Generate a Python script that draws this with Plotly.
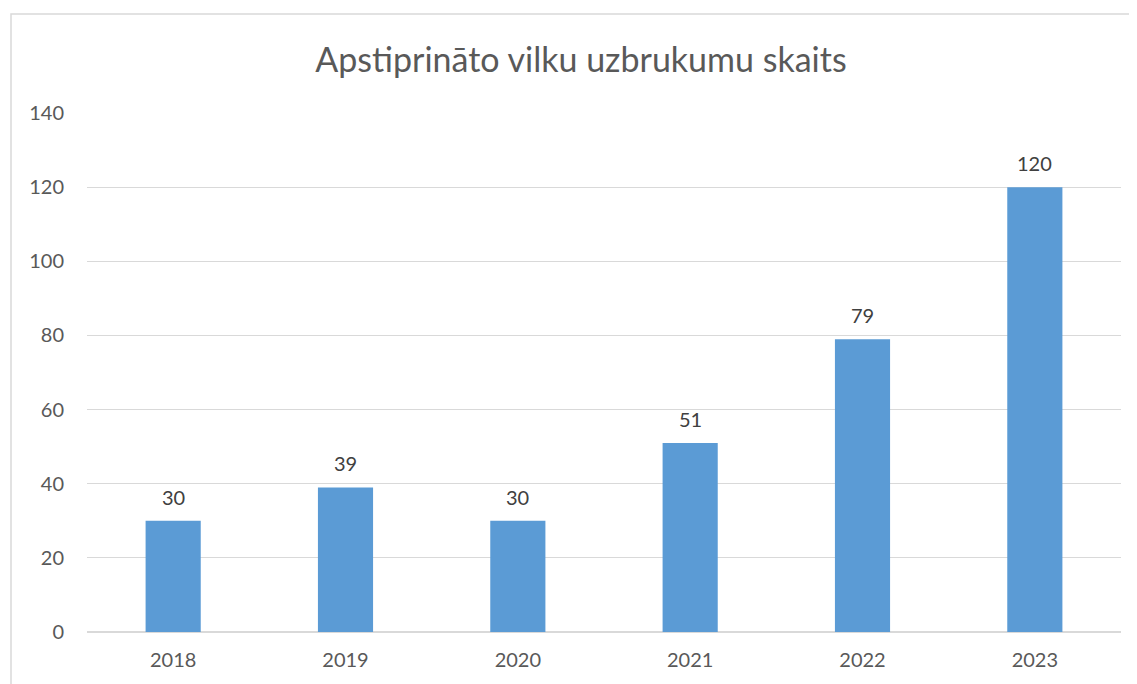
import plotly.graph_objects as go

years = ["2018", "2019", "2020", "2021", "2022", "2023"]
attacks = [30, 39, 30, 51, 79, 120]
y_ticks = [0, 20, 40, 60, 80, 100, 120, 140]
title_text = "Apstiprināto vilku uzbrukumu skaits"

# page body has an 8px default margin; compensate
OFF = 8
W, H = 1137 - OFF, 684 - OFF
L, R, T, B = 87 - OFF, 16, 113 - OFF, 52
pw = W - L - R
ph = H - T - B
FONT = "Lato, Calibri, sans-serif"

fig = go.Figure(go.Bar(
    x=years, y=attacks,
    marker=dict(color="#5b9bd5", line=dict(width=0)),
))

# value labels above bars (category index positions)
for i, v in enumerate(attacks):
    fig.add_annotation(x=i, y=v, text=str(v), showarrow=False, yanchor="bottom",
                       yshift=10, font=dict(family=FONT, size=20, color="#404040"))

fig.update_layout(
    width=W, height=H,
    margin=dict(l=L, r=R, t=T, b=B, autoexpand=False),
    paper_bgcolor="white", plot_bgcolor="white",
    bargap=0.68,
    showlegend=False,
    title=dict(text=title_text, x=(581 - OFF) / W, xanchor="center", y=1 - (60 - OFF) / H, yanchor="middle",
               font=dict(family=FONT, size=34, color="#595959")),
    xaxis=dict(type="category", range=[-0.5, len(years) - 0.5], showgrid=False, showline=False,
               ticks="", ticklabelstandoff=14,
               tickfont=dict(family=FONT, size=20, color="#595959")),
    yaxis=dict(range=[0, 140], tickvals=y_ticks, showgrid=True, gridcolor="#d9d9d9", gridwidth=1,
               zeroline=True, zerolinecolor="#d9d9d9", zerolinewidth=1.5, showline=False, ticks="",
               ticklabelstandoff=22,
               tickfont=dict(family=FONT, size=20, color="#595959")),
    shapes=[dict(type="rect", xref="paper", yref="paper",
                 x0=(11 - 87) / pw, x1=(1150 - 87) / pw,
                 y0=(632 - 700) / ph, y1=(632 - 14) / ph,
                 line=dict(color="#d9d9d9", width=1.5), fillcolor="rgba(0,0,0,0)", layer="below")],
)

fig.write_html("out.html")
